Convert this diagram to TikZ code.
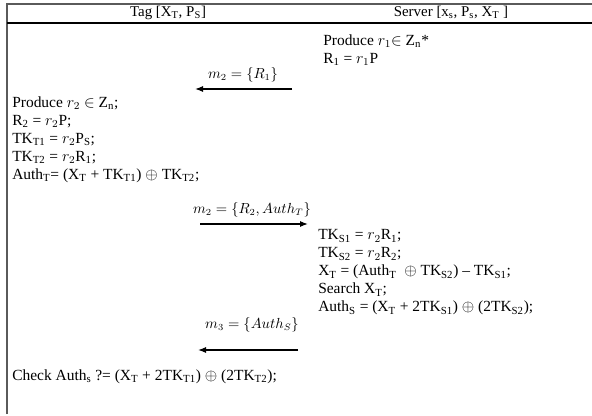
\documentclass[tikz,border=0pt]{standalone}
\usepackage{fontspec}
\setmainfont{Liberation Serif}
\usepackage{tikz}
\usetikzlibrary{arrows.meta}
\definecolor{PRFrame}{HTML}{5A5A5A}
\definecolor{PRRule}{HTML}{000000}
\newcommand{\sbs}[1]{\textsubscript{#1}}

\begin{document}
\begin{tikzpicture}[x=0.75pt,y=-0.75pt,
  steps/.style={anchor=north west,inner sep=0pt,align=left,font=\fontsize{11.6}{13.5}\selectfont},
  head/.style={anchor=base,inner sep=0pt,font=\fontsize{11.2}{13.5}\selectfont},
  msg/.style={anchor=center,inner sep=0pt,font=\fontsize{10.5}{13.5}\selectfont},
  msgarrow/.style={line width=0.9pt,-{Latex[length=6pt,width=4.5pt]}}]
\path[use as bounding box] (0,0) rectangle (592,415);
\draw[PRFrame,line width=1.1pt] (7,414) -- (7,4) -- (592,4);
\draw[PRRule,line width=1.1pt] (7,23) -- (592,23);
\node (taghead) [head] at (168,16.5) {Tag [X\sbs{T}, P\sbs{S}]};
\node (srvhead) [head] at (451,16.5) {Server [x\sbs{s}, P\sbs{s}, X\sbs{T} ]};
\node (srvinit) [steps] at (323,34.5) {Produce $r_1$$\in$ Z\sbs{n}*\\ R\sbs{1} = $r_1$P};
\coordinate (m1from) at (292,89);
\coordinate (m1to) at (195,89);
\node (m1label) [msg] at (243,75) {$m_2 = \{R_1\}$};
\draw[msgarrow] (m1from) -- (m1to);
\node (tagcalc) [steps] at (12,96.5) {Produce $r_2$ $\in$ Z\sbs{n};\\
  R\sbs{2} = $r_2$P;\\
  TK\sbs{T1} = $r_2$P\sbs{S};\\
  TK\sbs{T2} = $r_2$R\sbs{1};\\
  Auth\sbs{T}= (X\sbs{T} + TK\sbs{T1}) $\oplus$ TK\sbs{T2};};
\coordinate (m2from) at (200,224);
\coordinate (m2to) at (308,224);
\node (m2label) [msg] at (252,210) {$m_2 = \{R_2, Auth_T\}$};
\draw[msgarrow] (m2from) -- (m2to);
\node (srvcalc) [steps] at (318,229.5) {TK\sbs{S1} = $r_2$R\sbs{1};\\
  TK\sbs{S2} = $r_2$R\sbs{2};\\
  X\sbs{T} = (Auth\sbs{T} \ $\oplus$ TK\sbs{S2}) -- TK\sbs{S1};\\
  Search X\sbs{T};\\
  Auth\sbs{S} = (X\sbs{T} + 2TK\sbs{S1}) $\oplus$ (2TK\sbs{S2});};
\coordinate (m3from) at (298,350);
\coordinate (m3to) at (198,350);
\node (m3label) [msg] at (252,325) {$m_3 = \{Auth_S\}$};
\draw[msgarrow] (m3from) -- (m3to);
\node (tagcheck) [steps] at (12,369.5) {Check Auth\sbs{s} ?= (X\sbs{T} + 2TK\sbs{T1}) $\oplus$ (2TK\sbs{T2});};
\end{tikzpicture}
\end{document}
